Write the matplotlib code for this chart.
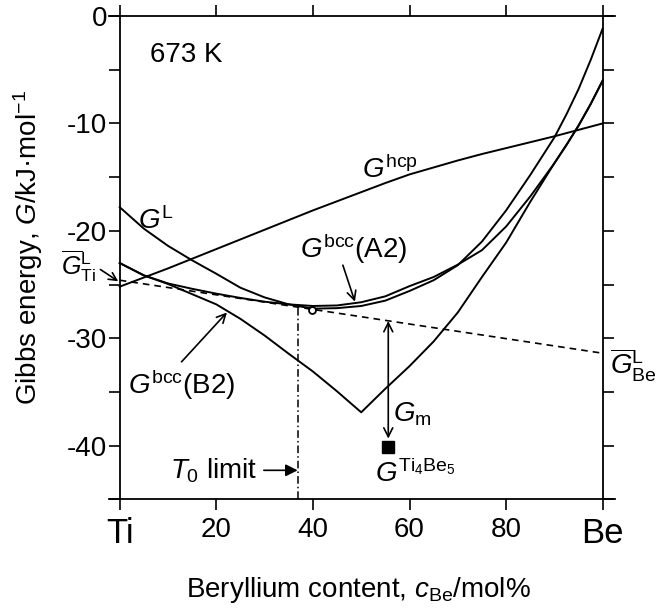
import matplotlib
matplotlib.use('Agg')
import matplotlib.pyplot as plt
from matplotlib.ticker import MultipleLocator

plt.rcParams['font.family'] = ['Liberation Sans', 'DejaVu Sans']
plt.rcParams['mathtext.fontset'] = 'custom'
plt.rcParams['mathtext.rm'] = 'Liberation Sans'
plt.rcParams['mathtext.it'] = 'Liberation Sans:italic'
plt.rcParams['mathtext.bf'] = 'Liberation Sans:bold'
plt.rcParams['axes.unicode_minus'] = False

# Be content (mol%)
x_be = [0, 5, 10, 15, 20, 25, 30, 35, 40, 45, 50, 55, 60, 65, 70, 75, 80, 85, 90, 92.5, 95, 97.5, 100]

# Gibbs energies (kJ/mol)
g_hcp = [-25.2, -24.35, -23.5, -22.6, -21.7, -20.8, -19.9, -19.0, -18.1, -17.25, -16.4,
         -15.55, -14.75, -14.1, -13.45, -12.85, -12.3, -11.75, -11.2, -10.9, -10.6, -10.3, -10.0]
g_liq = [-17.8, -19.8, -21.4, -22.75, -24.0, -25.3, -26.2, -26.85, -27.25, -27.2, -27.0,
         -26.5, -25.6, -24.6, -23.2, -21.0, -18.1, -14.8, -11.3, -9.15, -6.8, -4.1, -1.15]
g_a2 = [-23.0, -24.15, -24.9, -25.4, -25.85, -26.25, -26.6, -26.85, -27.0, -26.95, -26.65,
        -26.1, -25.15, -24.3, -23.15, -21.8, -19.6, -16.8, -13.7, -12.0, -10.2, -8.2, -6.0]
g_b2 = [-23.0, -24.15, -24.95, -25.9, -26.85, -28.2, -29.75, -31.45, -33.1, -34.95, -36.9,
        -34.7, -32.6, -30.3, -27.6, -24.3, -21.1, -17.3, -13.7, -12.0, -10.2, -8.2, -6.0]

# tangente comum (potenciais químicos do líquido)
x_tan = [0, 100]
g_tan = [-24.6, -31.4]

x_t0 = 37.0
g_t0_top = -27.15
x_touch, g_touch = 39.9, -27.4
x_comp, g_comp = 55.6, -40.1
g_gm_top, g_gm_bot = -28.4, -39.35

xticks = [0, 20, 40, 60, 80, 100]
xtick_labels = ['Ti', '20', '40', '60', '80', 'Be']
yticks = [0, -10, -20, -30, -40]

fig = plt.figure(figsize=(6.63, 6.11), dpi=100)
ax = fig.add_axes([0.1638, 0.1828, 0.7635, 0.791])

lw = 1.4
ax.plot(x_be, g_hcp, color='black', lw=lw)
ax.plot(x_be, g_liq, color='black', lw=lw)
ax.plot(x_be, g_a2, color='black', lw=lw)
ax.plot(x_be, g_b2, color='black', lw=lw)
ax.plot(x_tan, g_tan, color='black', lw=1.2, dashes=(4, 3))
ax.plot([x_t0, x_t0], [g_t0_top, -45], color='black', lw=1.1, linestyle=(0, (5, 2, 1, 2)))
ax.plot([x_touch], [g_touch], marker='o', ms=5, mfc='white', mec='black', mew=1.3)
ax.plot([x_comp], [g_comp], marker='s', ms=9, color='black')

ax.annotate('', xy=(x_comp, g_gm_top), xytext=(x_comp, g_gm_bot),
            arrowprops=dict(arrowstyle='<->', lw=1.2, color='black',
                            shrinkA=0, shrinkB=0, mutation_scale=16))

fs = 20
ax.text(6.3, -3.6, '673 K', fontsize=fs, va='center')
ax.text(50.1, -15.1, r'$G^{\mathrm{hcp}}$', fontsize=fs, va='baseline')
ax.text(3.8, -19.8, r'$G^{\mathrm{L}}$', fontsize=fs, va='baseline')
ax.text(37.4, -22.5, r'$G^{\mathrm{bcc}}$(A2)', fontsize=fs, va='baseline')
ax.text(1.8, -35.2, r'$G^{\mathrm{bcc}}$(B2)', fontsize=fs, va='baseline')
ax.text(56.6, -37.8, r'$G_{\mathrm{m}}$', fontsize=fs, va='baseline')
ax.text(52.9, -43.4, r'$G^{\mathrm{Ti_4Be_5}}$', fontsize=fs, va='baseline')
ax.text(101.5, -33.4, r'$\overline{G}^{\mathrm{L}}_{\mathrm{Be}}$', fontsize=fs, va='baseline')
ax.text(-12.2, -24.1, r'$\overline{G}^{\mathrm{L}}_{\mathrm{Ti}}$', fontsize=18, va='baseline')

ax.annotate('', xy=(48.7, -26.6), xytext=(46.2, -23.2),
            arrowprops=dict(arrowstyle='->', lw=1.2, color='black', shrinkA=0, shrinkB=0,
                            mutation_scale=16))
ax.annotate('', xy=(22.2, -27.6), xytext=(12.8, -32.2),
            arrowprops=dict(arrowstyle='->', lw=1.2, color='black', shrinkA=0, shrinkB=0,
                            mutation_scale=16))
ax.annotate('', xy=(-0.3, -24.7), xytext=(-4.0, -23.6),
            arrowprops=dict(arrowstyle='->', lw=1.2, color='black', shrinkA=0, shrinkB=0,
                            mutation_scale=14), annotation_clip=False)
ax.annotate(r'$T_0$ limit', xy=(36.85, -42.3), xytext=(28.4, -42.3),
            fontsize=fs, ha='right', va='center',
            arrowprops=dict(arrowstyle='-|>', lw=1.2, color='black', shrinkA=3, shrinkB=0,
                            mutation_scale=18, fc='black'))

ax.set_xlim(-2.3, 102.5)
ax.set_ylim(-45, 0)
ax.spines['left'].set_position(('data', 0))
ax.spines['right'].set_position(('data', 100))
for s in ax.spines.values():
    s.set_linewidth(1.3)

ax.set_xticks(xticks)
ax.set_xticklabels(xtick_labels)
ax.set_yticks(yticks)
ax.yaxis.set_minor_locator(MultipleLocator(5))
ax.tick_params(which='both', direction='out', length=8, width=1.2,
               top=True, right=True, labeltop=False, labelright=False)
ax.tick_params(axis='y', which='both', pad=1, labelsize=fs)
ax.tick_params(axis='x', pad=5, labelsize=fs)
for lab in ax.get_xticklabels():
    if lab.get_text() in ('Ti', 'Be'):
        lab.set_fontsize(25)

ax.set_xlabel(r'Beryllium content, $c_{\mathrm{Be}}$/mol%', fontsize=fs, va='center')
ax.xaxis.set_label_coords(0.493, -0.188)
ax.set_ylabel(r'Gibbs energy, $G$/kJ·mol$^{-1}$', fontsize=fs, va='center')
ax.yaxis.set_label_coords(-0.16, 0.52)

fig.savefig('out.png', dpi=100)
